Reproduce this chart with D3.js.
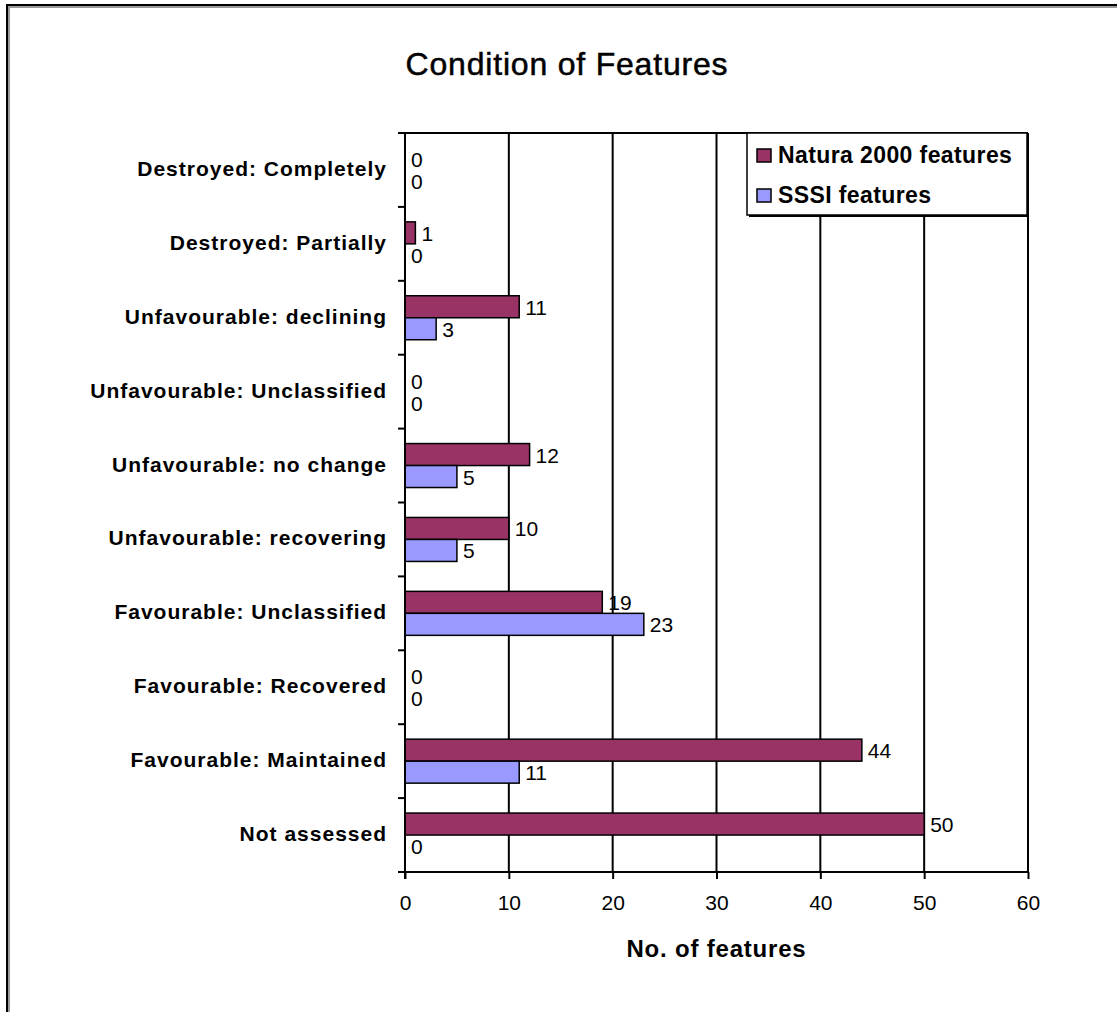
<!DOCTYPE html>
<html>
<head>
<meta charset="utf-8">
<script src="https://cdn.jsdelivr.net/npm/d3@7"></script>
<style>
  html, body { margin: 0; padding: 0; background: #fff; }
  svg { display: block; font-family: "Liberation Sans", Arial, sans-serif; }
</style>
</head>
<body>
<svg id="chart" width="1117" height="1012"></svg>
<script>
// Feature condition categories, top to bottom
const categories = [
  "Destroyed: Completely",
  "Destroyed: Partially",
  "Unfavourable: declining",
  "Unfavourable: Unclassified",
  "Unfavourable: no change",
  "Unfavourable: recovering",
  "Favourable: Unclassified",
  "Favourable: Recovered",
  "Favourable: Maintained",
  "Not assessed"
];
const seriesNames = ["Natura 2000 features", "SSSI features"];
const naturaValues = [0, 1, 11, 0, 12, 10, 19, 0, 44, 50];
const sssiValues   = [0, 0, 3, 0, 5, 5, 23, 0, 11, 0];
const xTicks = [0, 10, 20, 30, 40, 50, 60];
const seriesColors = ["#993366", "#9999FF"];

const svg = d3.select("#chart");
const W = 1117, H = 1012;
const plot = { left: 405, right: 1028, top: 133, bottom: 872 };

// Outer chart frame with a soft shadow
svg.append("rect").attr("x", 9).attr("y", 7).attr("width", W + 20).attr("height", H + 20)
  .attr("fill", "none").attr("stroke", "#9a9a9a").attr("stroke-width", 2);
svg.append("rect").attr("x", 7).attr("y", 5).attr("width", W + 20).attr("height", H + 20)
  .attr("fill", "none").attr("stroke", "#000").attr("stroke-width", 2);

const x = d3.scaleLinear().domain([0, 60]).range([plot.left, plot.right]);
const y = d3.scaleBand().domain(categories).range([plot.top, plot.bottom]).padding(0);
const ySeries = d3.scaleBand().domain(seriesNames).range([0, y.bandwidth()])
  .paddingInner(0).paddingOuter(0.68);

// Vertical gridlines
svg.append("g").selectAll("line").data(xTicks.slice(1)).join("line")
  .attr("x1", d => x(d)).attr("x2", d => x(d))
  .attr("y1", plot.top).attr("y2", plot.bottom)
  .attr("stroke", "#000").attr("stroke-width", 2);

// Top edge of plot area
svg.append("line").attr("x1", plot.left - 7).attr("x2", plot.right)
  .attr("y1", plot.top).attr("y2", plot.top)
  .attr("stroke", "#000").attr("stroke-width", 2);

// Bars
const rows = categories.map((c, i) => ({ cat: c, vals: [naturaValues[i], sssiValues[i]] }));
const groups = svg.append("g").selectAll("g").data(rows).join("g")
  .attr("transform", d => `translate(0,${y(d.cat)})`);

groups.selectAll("rect").data(d => d.vals.map((v, k) => ({ v, k })).filter(e => e.v > 0)).join("rect")
  .attr("x", x(0))
  .attr("y", e => ySeries(seriesNames[e.k]))
  .attr("width", e => x(e.v) - x(0))
  .attr("height", ySeries.bandwidth())
  .attr("fill", e => seriesColors[e.k])
  .attr("stroke", "#000").attr("stroke-width", 1.5);

// Value labels
groups.selectAll("text").data(d => d.vals.map((v, k) => ({ v, k }))).join("text")
  .attr("x", e => x(e.v) + 6)
  .attr("y", e => ySeries(seriesNames[e.k]) + ySeries.bandwidth() / 2 + 8)
  .attr("font-size", 21)
  .attr("fill", "#000")
  .text(e => e.v);

// Category axis (left)
const yAxis = svg.append("g").attr("transform", `translate(${plot.left},0)`);
yAxis.append("line").attr("x1", 0).attr("x2", 0).attr("y1", plot.top).attr("y2", plot.bottom + 7)
  .attr("stroke", "#000").attr("stroke-width", 2);
const boundaries = categories.map(c => y(c)).concat([plot.bottom]);
yAxis.selectAll("line.tick").data(boundaries).join("line").attr("class", "tick")
  .attr("x1", -7).attr("x2", 0).attr("y1", d => d).attr("y2", d => d)
  .attr("stroke", "#000").attr("stroke-width", 2);
svg.append("g").selectAll("text").data(categories).join("text")
  .attr("x", 387)
  .attr("y", d => y(d) + y.bandwidth() / 2 + 6)
  .attr("text-anchor", "end")
  .attr("font-size", 21).attr("font-weight", "bold")
  .attr("letter-spacing", "1px")
  .text(d => d);

// Value axis (bottom)
const xAxisG = svg.append("g").attr("transform", `translate(0,${plot.bottom})`);
xAxisG.call(d3.axisBottom(x).tickValues(xTicks).tickSize(7).tickPadding(16).tickFormat(d3.format("d")));
xAxisG.select(".domain").attr("d", `M${plot.left - 7},0H${plot.right}`).attr("stroke", "#000").attr("stroke-width", 2);
xAxisG.selectAll(".tick line").attr("stroke", "#000").attr("stroke-width", 2);
xAxisG.selectAll(".tick text").attr("font-size", 21).attr("fill", "#000")
  .attr("font-family", "Liberation Sans, Arial, sans-serif");

// Axis title
svg.append("text").attr("x", (plot.left + plot.right) / 2).attr("y", 957)
  .attr("text-anchor", "middle").attr("font-size", 24).attr("font-weight", "bold")
  .attr("letter-spacing", "0.8px")
  .text("No. of features");

// Chart title
svg.append("text").attr("x", 567).attr("y", 75)
  .attr("text-anchor", "middle").attr("font-size", 32)
  .attr("letter-spacing", "0.8px")
  .attr("stroke", "#000").attr("stroke-width", 0.5)
  .text("Condition of Features");

// Legend
const legend = svg.append("g").attr("transform", "translate(747,133)");
legend.append("rect").attr("x", 2).attr("y", 2).attr("width", 280).attr("height", 82).attr("fill", "#000");
legend.append("rect").attr("x", 0).attr("y", 0).attr("width", 280).attr("height", 82)
  .attr("fill", "#fff").attr("stroke", "#000").attr("stroke-width", 1.5);
const items = legend.selectAll("g").data(seriesNames).join("g")
  .attr("transform", (d, i) => `translate(10,${22 + i * 40})`);
items.append("rect").attr("x", 0).attr("y", -6).attr("width", 14).attr("height", 13)
  .attr("fill", (d, i) => seriesColors[i]).attr("stroke", "#000").attr("stroke-width", 1.5);
items.append("text").attr("x", 21).attr("y", 8)
  .attr("font-size", 23).attr("font-weight", "bold").attr("letter-spacing", "0.4px")
  .text(d => d);
</script>
</body>
</html>
